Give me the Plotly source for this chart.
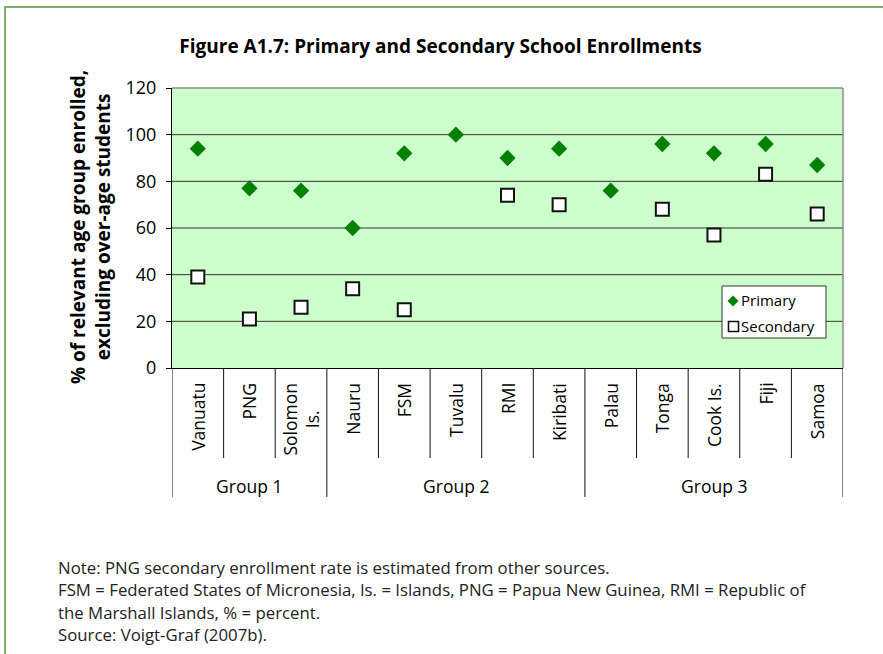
import plotly.graph_objects as go

# Enrollment rates (% of relevant age group, excluding over-age students)
countries = ["Vanuatu", "PNG", "Solomon<br>Is.", "Nauru", "FSM", "Tuvalu", "RMI",
             "Kiribati", "Palau", "Tonga", "Cook Is.", "Fiji", "Samoa"]
primary = [94, 77, 76, 60, 92, 100, 90, 94, 76, 96, 92, 96, 87]
secondary = [39, 21, 26, 34, 25, None, 74, 70, None, 68, 57, 83, 66]
groups = ["Group 1", "Group 2", "Group 3"]
group_sizes = [3, 5, 5]
y_ticks = [0, 20, 40, 60, 80, 100, 120]
series_names = ["Primary", "Secondary"]
notes = [
    "Note: PNG secondary enrollment rate is estimated from other sources.",
    "FSM = Federated States of Micronesia, Is. = Islands, PNG = Papua New Guinea, RMI = Republic of",
    "the Marshall Islands, % = percent.",
    "Source: Voigt-Graf (2007b).",
]

FONT = "Open Sans, Noto Sans, sans-serif"
GREEN = "#008000"
W, H = 883, 654
L, R, T, B = 172, 40, 88, 286
PW, PH = W - L - R, H - T - B


def px_x(px):
    return (px - L) / PW


def px_y(py):
    return (H - B - py) / PH


xs = list(range(len(countries)))

fig = go.Figure()
fig.add_trace(go.Scatter(
    x=xs, y=primary, mode="markers", name=series_names[0], showlegend=False,
    marker=dict(symbol="diamond", size=12.5, color=GREEN, line=dict(width=0)),
))
fig.add_trace(go.Scatter(
    x=xs, y=secondary, mode="markers", name=series_names[1], showlegend=False,
    marker=dict(symbol="square", size=13, color="white",
                line=dict(width=2, color="#111111")),
))

shapes = []
# horizontal gridlines
for v in y_ticks[1:-1]:
    shapes.append(dict(type="line", xref="paper", yref="y", x0=0, x1=1, y0=v, y1=v,
                       line=dict(color="#333333", width=1), layer="below"))
# plot-area top and right border
shapes.append(dict(type="line", xref="paper", yref="paper", x0=0, x1=1, y0=1, y1=1,
                   line=dict(color="#8c8c8c", width=1.5)))
shapes.append(dict(type="line", xref="paper", yref="paper", x0=1, x1=1, y0=0, y1=1,
                   line=dict(color="#8c8c8c", width=1.5)))

# category dividers and group dividers below the x axis
bounds = [0]
for s in group_sizes:
    bounds.append(bounds[-1] + s)
for i in range(len(countries) + 1):
    long_line = i in bounds
    shapes.append(dict(type="line", xref="x", yref="paper",
                       x0=i - 0.5, x1=i - 0.5, y0=0,
                       y1=px_y(497) if long_line else px_y(458),
                       line=dict(color="#111111", width=1)))

# outer frame
shapes.append(dict(type="rect", xref="paper", yref="paper",
                   x0=px_x(5), x1=px_x(1000), y0=px_y(800), y1=px_y(7),
                   line=dict(color="#4e9a3b", width=1.5), layer="below"))

# legend box with its keys
shapes.append(dict(type="rect", xref="paper", yref="paper",
                   x0=px_x(722), x1=px_x(826), y0=px_y(338), y1=px_y(286),
                   fillcolor="white", line=dict(color="#333333", width=1), layer="above"))
cx, cy, hw = 733, 301, 5.5
shapes.append(dict(type="path", xref="paper", yref="paper",
                   path="M {:.5f},{:.5f} L {:.5f},{:.5f} L {:.5f},{:.5f} L {:.5f},{:.5f} Z".format(
                       px_x(cx - hw), px_y(cy), px_x(cx), px_y(cy - hw),
                       px_x(cx + hw), px_y(cy), px_x(cx), px_y(cy + hw)),
                   fillcolor=GREEN, line=dict(width=0), layer="above"))
shapes.append(dict(type="rect", xref="paper", yref="paper",
                   x0=px_x(728.5), x1=px_x(738.5), y0=px_y(331.5), y1=px_y(321.5),
                   fillcolor="white", line=dict(color="#111111", width=1.6), layer="above"))

annotations = []
for i, c in enumerate(countries):
    annotations.append(dict(x=i, xref="x", y=px_y(381), yref="paper",
                            text=c, textangle=-90, showarrow=False,
                            xanchor="center", yanchor="top", align="center",
                            font=dict(family=FONT, size=17.5, color="#000000")))
for g, a, b in zip(groups, bounds[:-1], bounds[1:]):
    annotations.append(dict(x=(a + b - 1) / 2, xref="x", y=px_y(486), yref="paper",
                            text=g, showarrow=False, xanchor="center", yanchor="middle",
                            font=dict(family=FONT, size=17.5, color="#000000")))
annotations.append(dict(x=px_x(90), xref="paper", y=px_y(227), yref="paper",
                        text="<b>% of relevant age group enrolled,<br>excluding over-age students</b>",
                        textangle=-90, showarrow=False, xanchor="center", yanchor="middle",
                        font=dict(family=FONT, size=19, color="#000000")))
for k, line in enumerate(notes):
    annotations.append(dict(x=px_x(56), xref="paper", y=px_y(567 + 22.5 * k), yref="paper",
                            text=line, showarrow=False, xanchor="left", yanchor="middle",
                            font=dict(family=FONT, size=16.8, color="#222222")))
for name, ty in zip(series_names, [300, 326]):
    annotations.append(dict(x=px_x(739), xref="paper", y=px_y(ty), yref="paper",
                            text=name, showarrow=False, xanchor="left", yanchor="middle",
                            font=dict(family=FONT, size=15, color="#000000")))

fig.update_layout(
    width=W, height=H,
    margin=dict(l=L, r=R, t=T, b=B),
    paper_bgcolor="white",
    plot_bgcolor="#ccffcc",
    font=dict(family=FONT, color="#000000"),
    title=dict(text="<b>Figure A1.7: Primary and Secondary School Enrollments</b>",
               x=440.5 / W, xref="container", xanchor="center",
               y=1 - 46 / H, yanchor="middle",
               font=dict(family=FONT, size=19, color="#000000")),
    xaxis=dict(range=[-0.5, len(countries) - 0.5], showticklabels=False,
               showgrid=False, zeroline=False, showline=True,
               linecolor="#000000", linewidth=1, ticks=""),
    yaxis=dict(range=[0, 120], tickvals=y_ticks, showgrid=False, zeroline=False,
               showline=True, linecolor="#000000", linewidth=1,
               ticks="outside", ticklen=5, tickcolor="#000000",
               ticklabelstandoff=6,
               tickfont=dict(family=FONT, size=18, color="#000000")),
    shapes=shapes,
    annotations=annotations,
    showlegend=False,
)

fig.write_html("out.html")
